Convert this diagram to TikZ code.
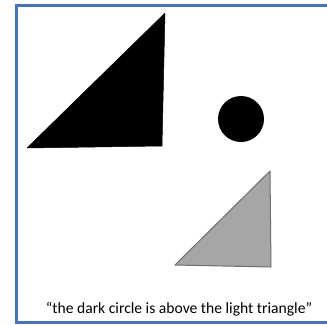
\documentclass[tikz,border=0pt]{standalone}
\usepackage{fontspec}
\setmainfont{Carlito}
\definecolor{frameblue}{HTML}{4472C4}
\definecolor{lightgray}{HTML}{A6A6A6}
\definecolor{edgegray}{HTML}{6E6E6E}
\begin{document}
\begin{tikzpicture}[x=1pt,y=-1pt,
  frame/.style={draw=frameblue,line width=3pt},
  darkshape/.style={fill=black,draw=black,line width=0.5pt,line join=round},
  lightshape/.style={fill=lightgray,draw=edgegray,line width=1pt,line join=round},
  caption/.style={font=\fontsize{15.6}{18}\selectfont,inner sep=0pt,anchor=base}]
\useasboundingbox (0,0) rectangle (327,325);
\fill[white] (0,0) rectangle (327,325);
\draw[frame] (330,5.5) -- (16.5,5.5) -- (16.5,322) -- (330,322);
\coordinate (a1) at (165,13);
\coordinate (a2) at (27,148);
\coordinate (a3) at (162,146);
\path[darkshape] (a1) -- (a2) -- (a3) -- cycle;
\node[circle,fill=black,minimum size=46pt,inner sep=0pt] (c) at (241,119) {};
\coordinate (b1) at (270,171);
\coordinate (b2) at (175,265);
\coordinate (b3) at (271,267);
\path[lightshape] (b1) -- (b2) -- (b3) -- cycle;
\node[caption] (t) at (179,313.5) {“the dark circle is above the light triangle”};
\end{tikzpicture}
\end{document}
